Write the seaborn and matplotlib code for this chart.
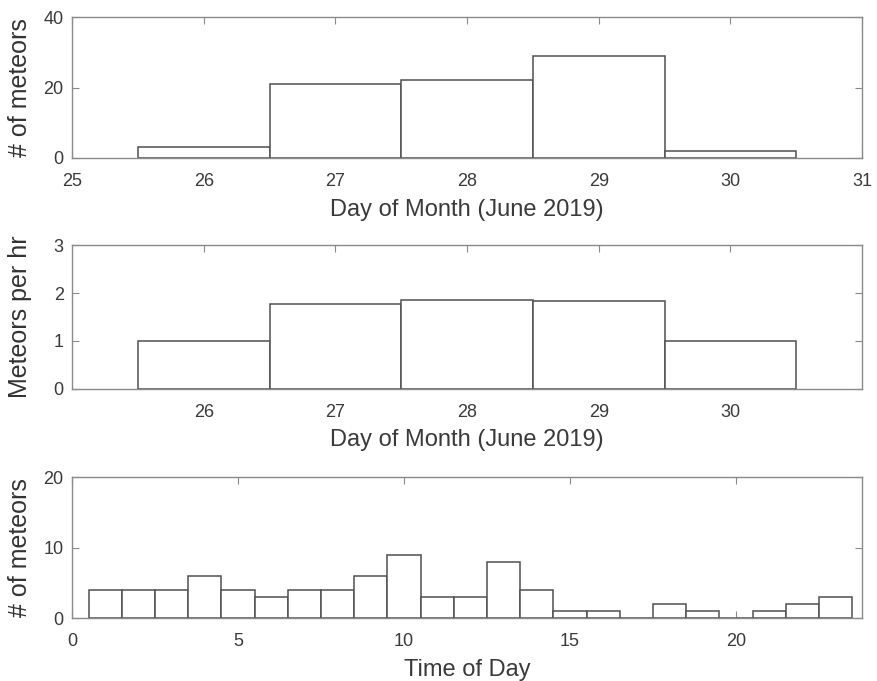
import numpy as np
import pandas as pd
import seaborn as sns
import matplotlib.pyplot as plt

# ----------------------------- DATI -----------------------------
days = [26, 27, 28, 29, 30]
meteors_per_day = [3, 21, 22, 29, 2]
meteors_per_hr = [1.0, 1.77, 1.85, 1.83, 1.0]

hours = list(range(1, 24))
meteors_per_hour_of_day = [4, 4, 4, 6, 4, 3, 4, 4, 6, 9, 3, 3, 8, 4,
                           1, 1, 0, 2, 1, 0, 1, 2, 3]

EDGE = '#505050'
AXIS = '#8a8a8a'
TEXT = '#3a3a3a'

sns.set_style('ticks')
plt.rcParams['font.family'] = ['Liberation Sans', 'DejaVu Sans']


def style_axis(ax):
    for s in ax.spines.values():
        s.set_color(AXIS)
        s.set_linewidth(1.0)
    ax.tick_params(direction='in', top=True, right=True, colors=AXIS,
                   labelcolor=TEXT, labelsize=13, length=5)
    ax.tick_params(axis='x', pad=11)
    ax.tick_params(axis='y', pad=6)


def draw_hist(ax, x, w, edges):
    df = pd.DataFrame({'x': x, 'w': w})
    sns.histplot(data=df, x='x', weights='w', bins=list(edges), ax=ax,
                 color='white', edgecolor=EDGE, linewidth=1.1, alpha=1)


fig = plt.figure(figsize=(8.78, 6.81), dpi=100)
ax1 = fig.add_axes([0.082, 0.768, 0.9, 0.207])
ax2 = fig.add_axes([0.082, 0.429, 0.9, 0.211])
ax3 = fig.add_axes([0.082, 0.0925, 0.9, 0.207])

XL = dict(fontsize=17, color=TEXT)
YL = dict(fontsize=18, color='#333333')

day_edges = np.arange(25.5, 31.0, 1.0)
draw_hist(ax1, days, meteors_per_day, day_edges)
ax1.set_xlim(25, 31)
ax1.set_ylim(0, 40)
ax1.set_yticks([0, 20, 40])
ax1.set_xticks(range(25, 32))
ax1.set_xlabel('Day of Month (June 2019)', **XL)
ax1.set_ylabel('# of meteors', **YL)

draw_hist(ax2, days, meteors_per_hr, day_edges)
ax2.set_xlim(25, 31)
ax2.set_ylim(0, 3)
ax2.set_yticks([0, 1, 2, 3])
ax2.set_xticks(days)
ax2.set_xlabel('Day of Month (June 2019)', **XL)
ax2.set_ylabel('Meteors per hr', **YL)

hour_edges = np.arange(0.5, 24.0, 1.0)
draw_hist(ax3, hours, meteors_per_hour_of_day, hour_edges)
ax3.set_xlim(0, 23.8)
ax3.set_ylim(0, 20)
ax3.set_yticks([0, 10, 20])
ax3.set_xticks([0, 5, 10, 15, 20])
ax3.set_xlabel('Time of Day', **XL)
ax3.set_ylabel('# of meteors', **YL)

for ax in (ax1, ax2, ax3):
    style_axis(ax)
    ax.yaxis.set_label_coords(-0.05, 0.5)
    ax.xaxis.labelpad = 6

fig.savefig('out.png', dpi=100)
